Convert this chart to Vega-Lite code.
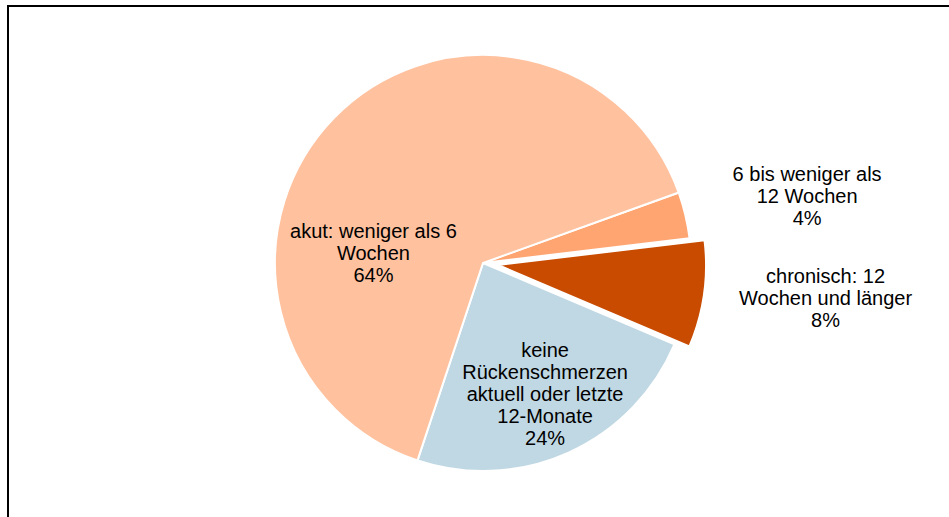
{
  "$schema": "https://vega.github.io/schema/vega-lite/v6.json",
  "width": 932,
  "height": 508,
  "autosize": "none",
  "padding": {"left": 17, "top": 9, "right": 0, "bottom": 0},
  "background": "white",
  "config": {
    "view": {"stroke": null},
    "text": {"font": "Liberation Sans"}
  },
  "layer": [
    {
      "data": {"values": [{"frame": "oben"}]},
      "mark": {"type": "rule", "color": "black", "strokeWidth": 2},
      "encoding": {"y": {"value": -3}, "x": {"value": -10}, "x2": {"value": 932}}
    },
    {
      "data": {"values": [{"frame": "links"}]},
      "mark": {"type": "rule", "color": "black", "strokeWidth": 2},
      "encoding": {"x": {"value": -9}, "y": {"value": -4}, "y2": {"value": 508}}
    },
    {
      "data": {
        "values": [
          {"cat": "6bis", "value": 3.6, "n": 1, "label": "6 bis weniger als|12 Wochen|4%"},
          {"cat": "chronisch", "value": 8.3, "n": 2, "label": "chronisch: 12|Wochen und länger|8%"},
          {"cat": "keine", "value": 23.7, "n": 3, "label": "keine|Rückenschmerzen|aktuell oder letzte|12-Monate|24%"},
          {"cat": "akut", "value": 64.4, "n": 4, "label": "akut:  weniger als 6|Wochen|64%"}
        ]
      },
      "encoding": {
        "theta": {"field": "value", "type": "quantitative", "stack": true, "scale": {"range": [1.2252, 7.5084]}},
        "order": {"field": "n", "type": "quantitative"}
      },
      "layer": [
        {
          "mark": {"type": "arc", "outerRadius": 208, "stroke": "white", "strokeWidth": 2},
          "encoding": {
            "color": {"field": "cat", "type": "nominal", "legend": null,
              "scale": {"domain": ["6bis", "chronisch", "keine", "akut"], "range": ["#FFA572", "#C84B00", "#C0D8E4", "#FFC19E"]}},
            "opacity": {"condition": {"test": "datum.cat === 'chronisch'", "value": 0}, "value": 1}
          }
        },
        {
          "mark": {"type": "arc", "outerRadius": 208, "stroke": "white", "strokeWidth": 2, "xOffset": 15, "yOffset": 2},
          "encoding": {
            "color": {"field": "cat", "type": "nominal", "legend": null,
              "scale": {"domain": ["6bis", "chronisch", "keine", "akut"], "range": ["#FFA572", "#C84B00", "#C0D8E4", "#FFC19E"]}},
            "opacity": {"condition": {"test": "datum.cat === 'chronisch'", "value": 1}, "value": 0}
          }
        },
        {
          "mark": {"type": "text", "radius": 86, "dx": -48, "dy": 29, "fontSize": 20, "lineHeight": 22, "lineBreak": "|", "align": "center", "baseline": "middle", "color": "black"},
          "encoding": {"text": {"condition": {"test": "datum.cat === 'akut'", "field": "label", "type": "nominal"}, "value": ""}}
        },
        {
          "mark": {"type": "text", "radius": 146, "dx": 2, "dy": -45, "fontSize": 20, "lineHeight": 22, "lineBreak": "|", "align": "center", "baseline": "middle", "color": "black"},
          "encoding": {"text": {"condition": {"test": "datum.cat === 'keine'", "field": "label", "type": "nominal"}, "value": ""}}
        },
        {
          "mark": {"type": "text", "radius": 331, "dx": 2, "dy": -12, "fontSize": 20, "lineHeight": 22, "lineBreak": "|", "align": "center", "baseline": "middle", "color": "black"},
          "encoding": {"text": {"condition": {"test": "datum.cat === '6bis'", "field": "label", "type": "nominal"}, "value": ""}}
        },
        {
          "mark": {"type": "text", "radius": 345, "dx": 1, "dy": -35, "fontSize": 20, "lineHeight": 22, "lineBreak": "|", "align": "center", "baseline": "middle", "color": "black"},
          "encoding": {"text": {"condition": {"test": "datum.cat === 'chronisch'", "field": "label", "type": "nominal"}, "value": ""}}
        }
      ]
    }
  ]
}
